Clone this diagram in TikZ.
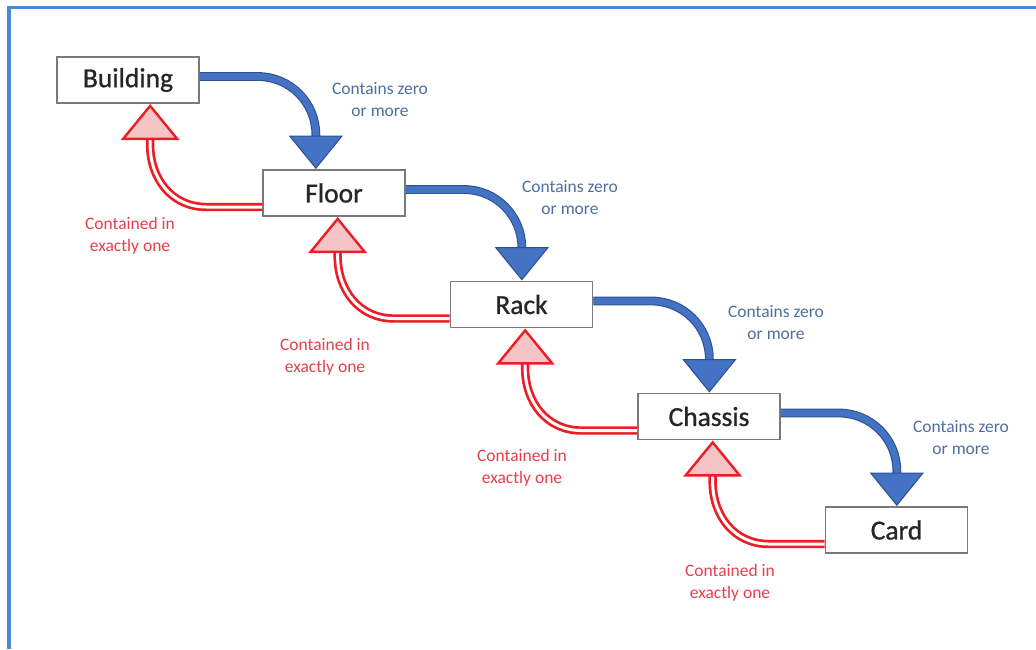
\documentclass[tikz,border=0pt]{standalone}
\usepackage{fontspec}
\setmainfont{Carlito}
\newfontfamily\boxfont[FakeBold=0.9]{Carlito}
\usetikzlibrary{calc}
\definecolor{framecol}{HTML}{4A88D8}
\definecolor{bfill}{HTML}{4472C4}
\definecolor{bdark}{HTML}{2F528F}
\definecolor{rline}{HTML}{EE1C25}
\definecolor{pfill}{HTML}{F5C4C4}
\definecolor{btext}{HTML}{4F6F9F}
\definecolor{rtext}{HTML}{E5404E}
\definecolor{boxline}{HTML}{7A7A7A}
\definecolor{boxtext}{HTML}{262626}
\tikzset{
  levelbox/.style={draw=boxline, line width=1.7pt, fill=white, minimum width=142pt, minimum height=46pt, inner sep=0pt, text=boxtext, font=\boxfont\fontsize{27.5}{30}\selectfont},
  blbl/.style={align=center, text=btext, font=\fontsize{17.5}{22}\selectfont, inner sep=0pt},
  rlbl/.style={align=center, text=rtext, font=\fontsize{17.5}{22}\selectfont, inner sep=0pt},
  bshaft/.style={draw=bdark, line width=1.1pt, double=bfill, double distance=6.6pt},
  bhead/.style={fill=bfill, draw=bdark, line width=1.1pt, line join=miter},
  rshaft/.style={draw=rline, line width=2.7pt, double=white, double distance=3pt},
  rhead/.style={fill=pfill, draw=rline, line width=2.4pt, line join=miter}
}
\newcommand\bluearr[2]{%
  \draw[bshaft] let \p1=([yshift=3.5pt]#1.east), \p2=(#2.north), \p3=([xshift=116pt]#1.east) in
    (\p1) -- (\x3-58pt,\y1) .. controls (\x3-26pt,\y1) and (\x3,\y1-26pt) .. (\x3,\y1-58pt) -- (\x3,\y2+32pt);
  \filldraw[bhead] let \p1=([yshift=3.5pt]#1.east), \p2=(#2.north), \p3=([xshift=116pt]#1.east) in
    (\x3-26pt,\y2+33pt) -- (\x3+26pt,\y2+33pt) -- (\x3,\y2+1pt) -- cycle;
}
\newcommand\redarr[2]{%
  \draw[rshaft] let \p1=([yshift=-14pt]#1.west), \p2=(#2.south), \p3=([xshift=-112pt]#1.west) in
    (\p1) -- (\x3+56pt,\y1) .. controls (\x3+22pt,\y1) and (\x3,\y1+28pt) .. (\x3,\y1+62pt) -- (\x3,\y2-34pt);
  \filldraw[rhead] let \p1=([yshift=-14pt]#1.west), \p2=(#2.south), \p3=([xshift=-112pt]#1.west) in
    (\x3-27pt,\y2-35pt) -- (\x3+27pt,\y2-35pt) -- (\x3,\y2-2pt) -- cycle;
}
\begin{document}
\begin{tikzpicture}[x=1pt,y=-1pt]
\useasboundingbox (0,0) rectangle (1036,649);
\fill[white] (0,0) rectangle (1036,649);
\draw[framecol, line width=3.4pt] (9,649) -- (9,7.5) -- (1036,7.5);

\node[levelbox] (B) at (128,80) {Building};
\node[levelbox] (F) at (334,193) {Floor};
\node[levelbox] (R) at (521.5,304.5) {Rack};
\node[levelbox] (C) at (709,416.5) {Chassis};
\node[levelbox] (K) at (896.5,530) {Card};

\bluearr{B}{F}
\bluearr{F}{R}
\bluearr{R}{C}
\bluearr{C}{K}

\redarr{F}{B}
\redarr{R}{F}
\redarr{C}{R}
\redarr{K}{C}

\node[blbl] (b1) at (380,100) {Contains zero\\or more};
\node[blbl] (b2) at (570,198) {Contains zero\\or more};
\node[blbl] (b3) at (776,323) {Contains zero\\or more};
\node[blbl] (b4) at (961,437.5) {Contains zero\\or more};

\node[rlbl] (r1) at (130,236) {Contained in\\exactly one};
\node[rlbl] (r2) at (325,357) {Contained in\\exactly one};
\node[rlbl] (r3) at (522,468) {Contained in\\exactly one};
\node[rlbl] (r4) at (730,582.5) {Contained in\\exactly one};
\end{tikzpicture}
\end{document}
